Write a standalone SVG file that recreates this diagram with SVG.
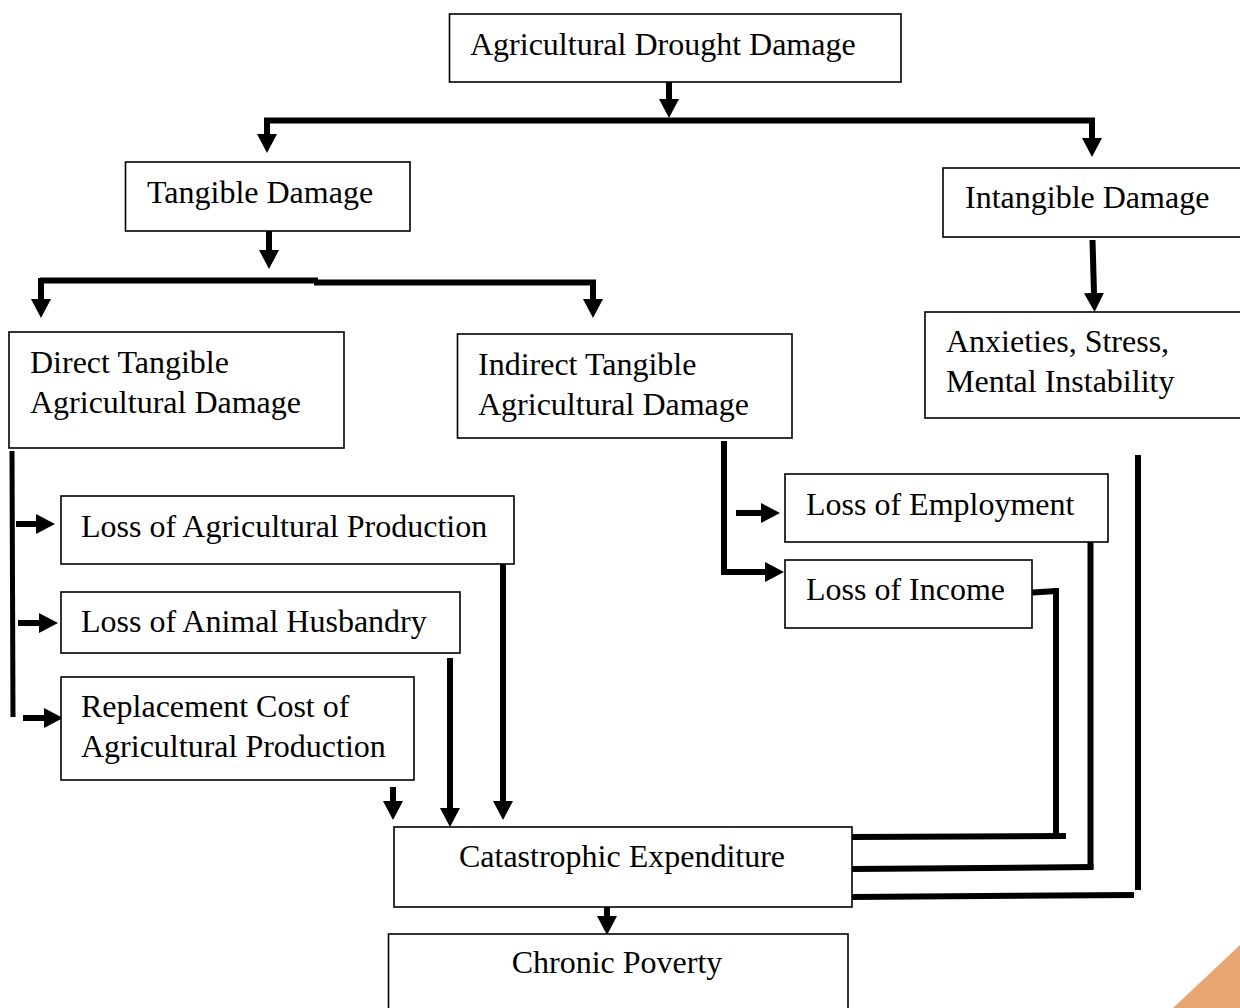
<svg xmlns="http://www.w3.org/2000/svg" width="1240" height="1008" viewBox="0 0 1240 1008">
<style>
.box{fill:#fff;stroke:#000;stroke-width:1.6}
.t{font-family:"Liberation Serif","Times New Roman",serif;font-size:32px;fill:#000}
.c{fill:none;stroke:#000;stroke-width:6;stroke-linecap:butt;stroke-linejoin:miter}
.a{fill:none;stroke:#000;stroke-width:6;marker-end:url(#ah)}
</style>
<defs>
<marker id="ah" markerUnits="userSpaceOnUse" markerWidth="20" markerHeight="20" refX="0" refY="10" orient="auto" viewBox="0 0 20 20">
<path d="M0,0 L19,10 L0,20 Z" fill="#000"/>
</marker>
</defs>
<rect width="1240" height="1008" fill="#fff"/>
<g id="connectors">
<line class="a" x1="669" y1="82" x2="669" y2="99"/>
<line class="c" x1="264" y1="120.5" x2="1095" y2="120.5"/>
<line class="a" x1="267" y1="118" x2="267" y2="134"/>
<line class="a" x1="1092" y1="118" x2="1092" y2="138"/>
<line class="a" x1="269" y1="231" x2="269" y2="250"/>
<line class="c" x1="40" y1="280.5" x2="318" y2="280.5"/>
<line class="c" x1="314" y1="282.5" x2="596" y2="282.5"/>
<line class="a" x1="41" y1="278" x2="41" y2="299"/>
<line class="a" x1="593" y1="280" x2="593" y2="299"/>
<line class="a" x1="1092.5" y1="240" x2="1094" y2="293"/>
<line class="c" x1="12" y1="451" x2="13" y2="717" style="stroke-width:5"/>
<line class="a" x1="16" y1="524" x2="36" y2="524"/>
<line class="a" x1="18" y1="623" x2="39" y2="623"/>
<line class="a" x1="23" y1="718" x2="44" y2="718"/>
<line class="a" x1="503" y1="564" x2="503" y2="801"/>
<line class="a" x1="450" y1="658" x2="450" y2="808"/>
<line class="a" x1="393" y1="787" x2="393" y2="801"/>
<polyline class="a" points="724,441 724,572 765,572"/>
<line class="a" x1="736" y1="513" x2="761" y2="513"/>
<polyline class="c" points="1018,593.5 1056,591"/>
<line class="c" x1="1056" y1="588" x2="1056" y2="834"/>
<line class="c" x1="852" y1="837" x2="1066" y2="836"/>
<line class="c" x1="1090.5" y1="542" x2="1090.5" y2="869"/>
<line class="c" x1="852" y1="869" x2="1093.5" y2="867"/>
<line class="c" x1="1138" y1="455" x2="1138" y2="890"/>
<line class="c" x1="852" y1="897" x2="1134" y2="895"/>
<line class="a" x1="607" y1="907" x2="607" y2="916"/>
</g>
<g id="n-agri"><rect class="box" x="449.5" y="14" width="451.5" height="68"/><text class="t" x="470" y="55">Agricultural Drought Damage</text></g>
<g id="n-tangible"><rect class="box" x="125.5" y="162" width="284.5" height="69"/><text class="t" x="147" y="203">Tangible Damage</text></g>
<g id="n-intangible"><rect class="box" x="943" y="168" width="300" height="69"/><text class="t" x="965" y="208">Intangible Damage</text></g>
<g id="n-direct"><rect class="box" x="9" y="332" width="335" height="116"/><text class="t" x="30" y="373">Direct Tangible</text><text class="t" x="30" y="413">Agricultural Damage</text></g>
<g id="n-indirect"><rect class="box" x="457.5" y="334" width="334.5" height="104"/><text class="t" x="478" y="375">Indirect Tangible</text><text class="t" x="478" y="415">Agricultural Damage</text></g>
<g id="n-anxieties"><rect class="box" x="925" y="312" width="320" height="106"/><text class="t" x="946" y="352">Anxieties, Stress,</text><text class="t" x="946" y="392">Mental Instability</text></g>
<g id="n-lap"><rect class="box" x="61" y="496" width="453" height="68"/><text class="t" x="81" y="537">Loss of Agricultural Production</text></g>
<g id="n-lah"><rect class="box" x="61" y="592" width="399" height="61"/><text class="t" x="81" y="632">Loss of Animal Husbandry</text></g>
<g id="n-replacement"><rect class="box" x="61" y="677" width="353" height="103"/><text class="t" x="81" y="717">Replacement Cost of</text><text class="t" x="81" y="757">Agricultural Production</text></g>
<g id="n-employment"><rect class="box" x="785" y="474" width="323" height="68"/><text class="t" x="806" y="515">Loss of Employment</text></g>
<g id="n-income"><rect class="box" x="785" y="560" width="247" height="68"/><text class="t" x="806" y="600">Loss of Income</text></g>
<g id="n-catastrophic"><rect class="box" x="394" y="827" width="458" height="80"/><text class="t" x="622" y="867" text-anchor="middle">Catastrophic Expenditure</text></g>
<g id="n-chronic"><rect class="box" x="388.5" y="934" width="459.5" height="80"/><text class="t" x="617" y="973" text-anchor="middle">Chronic Poverty</text></g>
<polygon points="1240,945 1240,1008 1173,1008" fill="#E8A672"/>
</svg>
